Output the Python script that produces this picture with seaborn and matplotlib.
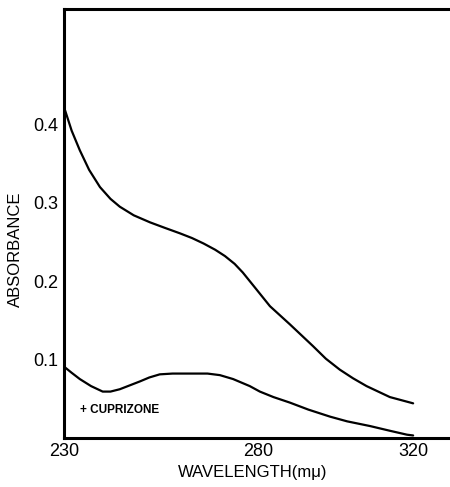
import matplotlib
matplotlib.use("Agg")
import matplotlib.pyplot as plt
import seaborn as sns
import pandas as pd

sns.set_style("white")
plt.rcParams['font.family'] = ['Liberation Sans', 'DejaVu Sans']
plt.rcParams['text.color'] = 'black'
plt.rcParams['axes.labelcolor'] = 'black'

# Upper curve (no cuprizone)
wl_upper = [230.3, 232.0, 234.1, 236.5, 239.3, 242.0, 244.4, 248.0, 252.2, 256.0, 259.9,
            263.0, 266.0, 269.0, 271.5, 274.0, 276.1, 279.2, 283.1, 288.2,
            294.2, 297.5, 301.1, 304.5, 308.0, 314.0, 320.0]
abs_upper = [0.418, 0.392, 0.367, 0.342, 0.320, 0.305, 0.295, 0.284, 0.275, 0.268, 0.261,
             0.255, 0.248, 0.240, 0.232, 0.222, 0.211, 0.192, 0.168, 0.145,
             0.117, 0.101, 0.087, 0.076, 0.066, 0.052, 0.044]

# Lower curve (+ cuprizone)
wl_lower = [230.0, 232.0, 234.1, 237.0, 240.0, 242.0, 244.4, 247.0, 249.6, 252.0, 254.7,
            258.0, 263.2, 267.0, 270.2, 273.6, 277.9, 280.5, 284.0, 288.2, 293.0,
            298.6, 303.0, 308.9, 314.0, 318.4, 320.0]
abs_lower = [0.091, 0.083, 0.075, 0.066, 0.059, 0.059, 0.062, 0.067, 0.072, 0.077, 0.081,
             0.082, 0.082, 0.082, 0.080, 0.075, 0.066, 0.059, 0.052, 0.045, 0.036,
             0.027, 0.021, 0.015, 0.009, 0.004, 0.003]

x_ticks = [230, 280, 320]
y_ticks = [0.1, 0.2, 0.3, 0.4]
y_tick_labels = ["0.1", "0.2", "0.3", "0.4"]

df = pd.concat([
    pd.DataFrame({"wl": wl_upper, "A": abs_upper, "series": "control"}),
    pd.DataFrame({"wl": wl_lower, "A": abs_lower, "series": "cuprizone"}),
])

fig = plt.figure(figsize=(4.5, 4.87), dpi=100)
ax = fig.add_axes([0.142, 0.101, 0.858, 0.880])

sns.lineplot(data=df, x="wl", y="A", units="series", estimator=None,
             color="black", linewidth=1.6, sort=False, ax=ax, legend=False)

ax.set_xlim(230, 329.5)
ax.set_ylim(0, 0.547)
ax.set_xticks(x_ticks)
ax.set_yticks(y_ticks)
ax.set_yticklabels(y_tick_labels)
ax.tick_params(axis="both", direction="in", length=6, width=1.3, labelsize=13,
               colors="black", labelcolor="black", pad=4)
ax.tick_params(axis="x", pad=4)

for side in ["left", "bottom", "top"]:
    ax.spines[side].set_visible(True)
    ax.spines[side].set_color("black")
    ax.spines[side].set_linewidth(2.2)
ax.spines["right"].set_visible(False)

ax.set_xlabel("WAVELENGTH(mμ)", fontsize=12, color="black", va="center")
ax.xaxis.set_label_coords(0.49, -0.08)
ax.set_ylabel("ABSORBANCE", fontsize=12, color="black")
ax.yaxis.set_label_coords(-0.105, 0.44)

ax.text(234.2, 0.036, "+ CUPRIZONE", fontsize=8.5, fontweight="bold",
        va="center", ha="left", color="black")

fig.savefig("out.png", dpi=100)
